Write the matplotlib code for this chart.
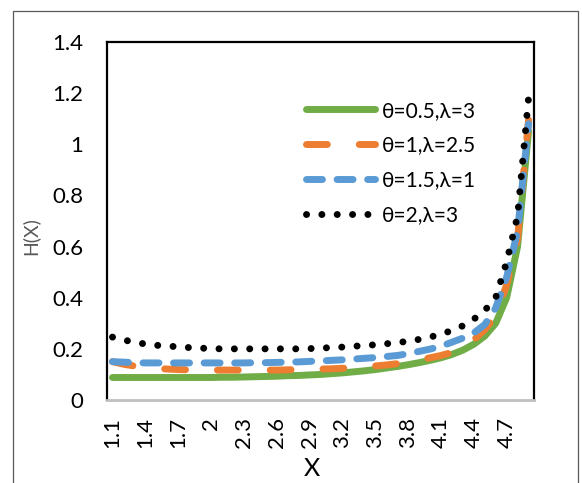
import matplotlib.pyplot as plt
from matplotlib.patches import Rectangle

plt.rcParams['font.family'] = ['Lato', 'DejaVu Sans']

# Datos
x_vals = [round(1.1 + 0.1 * k, 1) for k in range(39)]
x_labels = ['1.1', '1.4', '1.7', '2', '2.3', '2.6', '2.9', '3.2', '3.5', '3.8', '4.1', '4.4', '4.7']

h_g = [0.088, 0.088, 0.088, 0.088, 0.088, 0.088, 0.088, 0.088, 0.088, 0.088,
       0.089, 0.089, 0.090, 0.091, 0.092, 0.093, 0.095, 0.096, 0.098, 0.100,
       0.103, 0.106, 0.110, 0.114, 0.119, 0.125, 0.131, 0.138, 0.146, 0.155,
       0.165, 0.178, 0.195, 0.218, 0.250, 0.300, 0.400, 0.600, 1.050]
h_o = [0.150, 0.140, 0.133, 0.128, 0.124, 0.121, 0.119, 0.118, 0.117, 0.117,
       0.117, 0.117, 0.117, 0.117, 0.117, 0.117, 0.118, 0.119, 0.120, 0.121,
       0.122, 0.124, 0.127, 0.130, 0.133, 0.137, 0.142, 0.148, 0.156, 0.165,
       0.174, 0.186, 0.205, 0.235, 0.275, 0.330, 0.450, 0.630, 1.095]
h_b = [0.150, 0.148, 0.146, 0.145, 0.145, 0.145, 0.145, 0.145, 0.145, 0.145,
       0.145, 0.145, 0.145, 0.146, 0.146, 0.147, 0.148, 0.149, 0.151, 0.153,
       0.155, 0.157, 0.160, 0.163, 0.166, 0.170, 0.174, 0.181, 0.190, 0.199,
       0.210, 0.226, 0.242, 0.262, 0.295, 0.360, 0.480, 0.660, 1.080]
h_k = [0.246, 0.235, 0.226, 0.219, 0.214, 0.211, 0.208, 0.205, 0.203, 0.201,
       0.200, 0.200, 0.200, 0.200, 0.200, 0.200, 0.200, 0.200, 0.201, 0.203,
       0.205, 0.207, 0.210, 0.213, 0.216, 0.220, 0.224, 0.230, 0.237, 0.246,
       0.257, 0.272, 0.290, 0.316, 0.350, 0.400, 0.540, 0.720, 1.180]

labels = ['θ=0.5,λ=3', 'θ=1,λ=2.5', 'θ=1.5,λ=1', 'θ=2,λ=3']

fig = plt.figure(figsize=(5.82, 4.83), dpi=100)
ax = fig.add_axes([107 / 582, 1 - 400 / 483, 427 / 582, 358 / 483])

# marco exterior
fig.patches.append(Rectangle((13 / 582, -0.05), 565 / 582, 1.05 - 11 / 483,
                             transform=fig.transFigure, fill=False,
                             edgecolor='#595959', linewidth=0.9))

idx = list(range(len(x_vals)))
lw = 5
ax.plot(idx, h_g, color='#70AD47', lw=lw, solid_capstyle='round', label=labels[0])
ax.plot(idx, h_o, color='#ED7D31', lw=lw, dashes=(3.0, 4.6), dash_capstyle='round', label=labels[1])
ax.plot(idx, h_b, color='#5B9BD5', lw=lw, dashes=(2.3, 2.1), dash_capstyle='round', label=labels[2])
ax.plot(idx, h_k, color='black', lw=lw, dashes=(0.01, 2.2), dash_capstyle='round', label=labels[3])

ax.set_xlim(-0.5, len(x_vals) - 0.5)
ax.set_ylim(0, 1.4)
ax.set_yticks([0, 0.2, 0.4, 0.6, 0.8, 1.0, 1.2, 1.4])
ax.set_yticklabels(['0', '0.2', '0.4', '0.6', '0.8', '1', '1.2', '1.4'])
ax.set_xticks(idx[::3])
ax.set_xticklabels(x_labels, rotation=90)
ax.tick_params(axis='y', length=0, pad=17, labelsize=16)
ax.tick_params(axis='x', length=0, pad=12, labelsize=16)

for s in ['left', 'top', 'right']:
    ax.spines[s].set_color('black')
    ax.spines[s].set_linewidth(1.6)
ax.spines['bottom'].set_color('#bfbfbf')
ax.spines['bottom'].set_linewidth(2)

fig.text(30 / 582, 1 - 236 / 483, 'H(X)', rotation=90, fontsize=14,
         color='#595959', ha='center', va='center')
fig.text(312 / 582, 1 - 469 / 483, 'X', fontsize=18, ha='center', va='center')

leg = ax.legend(loc='upper left', bbox_to_anchor=(0.467, 0.836), frameon=False,
                fontsize=15, handlelength=3.3, handletextpad=0.3,
                labelspacing=0.71, borderpad=0, borderaxespad=0)

fig.savefig('out.png', dpi=100)
